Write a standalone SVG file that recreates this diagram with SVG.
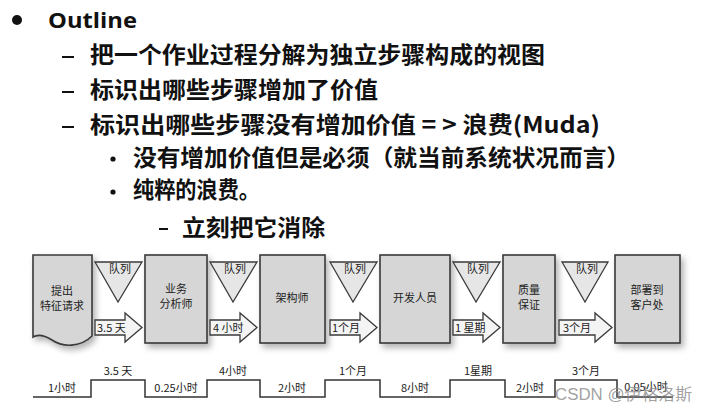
<svg xmlns="http://www.w3.org/2000/svg" width="708" height="413" viewBox="0 0 708 413">
<defs>
<style>
.h{font-family:"Noto Sans CJK SC","Noto Sans",sans-serif;font-weight:700;fill:#111}
.o{font-family:"Open Sans","Noto Sans",sans-serif;font-weight:700;fill:#111}
.t{font-family:"Noto Sans CJK SC",sans-serif;font-size:11px;fill:#222}
.box{fill:#d6d6d6;stroke:#3a3a3a;stroke-width:1.6}
.tri{fill:#e6e6e6;stroke:#3a3a3a;stroke-width:1.3}
.arr{fill:#f4f4f4;stroke:#3a3a3a;stroke-width:1.3}
.tl{fill:none;stroke:#333;stroke-width:1.5}
.d{stroke:#111;stroke-width:2}
</style>
<filter id="sh" x="-20%" y="-20%" width="150%" height="150%">
<feDropShadow dx="3" dy="4" stdDeviation="3" flood-color="#000" flood-opacity="0.3"/>
</filter>
</defs>
<rect width="708" height="413" fill="#fff"/>
<g id="outline">
<circle cx="17" cy="20" r="5" fill="#111"/>
<text class="o" x="48" y="28" font-size="21" textLength="89" lengthAdjust="spacingAndGlyphs">Outline</text>
<line class="d" x1="62" y1="57" x2="74" y2="57"/>
<text class="h" x="90" y="63" font-size="23" textLength="455" lengthAdjust="spacingAndGlyphs">把一个作业过程分解为独立步骤构成的视图</text>
<line class="d" x1="62" y1="92" x2="74" y2="92"/>
<text class="h" x="90" y="98" font-size="23" textLength="288" lengthAdjust="spacingAndGlyphs">标识出哪些步骤增加了价值</text>
<line class="d" x1="62" y1="127" x2="74" y2="127"/>
<text class="h" x="90" y="133" font-size="23" textLength="510" lengthAdjust="spacingAndGlyphs">标识出哪些步骤没有增加价值 = &gt; 浪费(Muda)</text>
<circle cx="113" cy="159" r="2.6" fill="#111"/>
<text class="h" x="133" y="166" font-size="23" textLength="497" lengthAdjust="spacingAndGlyphs">没有增加价值但是必须（就当前系统状况而言）</text>
<circle cx="113" cy="192" r="2.6" fill="#111"/>
<text class="h" x="133" y="198" font-size="23" textLength="127" lengthAdjust="spacingAndGlyphs">纯粹的浪费。</text>
<line class="d" x1="159" y1="229" x2="168" y2="229"/>
<text class="h" x="182" y="236" font-size="23" textLength="143" lengthAdjust="spacingAndGlyphs">立刻把它消除</text>
</g>
<g id="n1" filter="url(#sh)">
<path class="box" d="M33,255 H92 V336 C80,348 62,347 52,340 C44,335 38,334 33,337 Z"/>
</g>
<g id="n1t"><text class="t" x="62" y="295" text-anchor="middle">提出</text><text class="t" x="62" y="310" text-anchor="middle">特征请求</text></g>
<g id="n2" filter="url(#sh)"><rect class="box" x="145" y="255" width="62" height="88"/></g>
<g id="n2t"><text class="t" x="176" y="293" text-anchor="middle">业务</text><text class="t" x="176" y="308" text-anchor="middle">分析师</text></g>
<g id="n3" filter="url(#sh)"><rect class="box" x="260" y="255" width="65" height="88"/></g>
<g id="n3t"><text class="t" x="292" y="302" text-anchor="middle">架构师</text></g>
<g id="n4" filter="url(#sh)"><rect class="box" x="380" y="255" width="70" height="88"/></g>
<g id="n4t"><text class="t" x="415" y="302" text-anchor="middle">开发人员</text></g>
<g id="n5" filter="url(#sh)"><rect class="box" x="503" y="255" width="52" height="88"/></g>
<g id="n5t"><text class="t" x="529" y="294" text-anchor="middle">质量</text><text class="t" x="529" y="309" text-anchor="middle">保证</text></g>
<g id="n6" filter="url(#sh)"><rect class="box" x="615" y="255" width="65" height="88"/></g>
<g id="n6t"><text class="t" x="647" y="294" text-anchor="middle">部署到</text><text class="t" x="647" y="309" text-anchor="middle">客户处</text></g>
<g id="q1"><path class="tri" d="M95,262 H142 L118,302 Z"/><text class="t" x="120" y="273" text-anchor="middle" font-size="10">队列</text></g>
<g id="q2"><path class="tri" d="M210,262 H257 L233,302 Z"/><text class="t" x="235" y="273" text-anchor="middle" font-size="10">队列</text></g>
<g id="q3"><path class="tri" d="M330,262 H377 L353,302 Z"/><text class="t" x="355" y="273" text-anchor="middle" font-size="10">队列</text></g>
<g id="q4"><path class="tri" d="M453,262 H500 L476,302 Z"/><text class="t" x="478" y="273" text-anchor="middle" font-size="10">队列</text></g>
<g id="q5"><path class="tri" d="M562,262 H608 L585,302 Z"/><text class="t" x="587" y="273" text-anchor="middle" font-size="10">队列</text></g>
<g id="connectors">
<path class="arr" d="M95,320 H125 V313 L142,327.5 L125,342 V335 H95 Z"/>
<text class="t" x="97" y="332" font-size="10.5">3.5 天</text>
<path class="arr" d="M210,320 H240 V313 L257,327.5 L240,342 V335 H210 Z"/>
<text class="t" x="213" y="332" font-size="10.5">4 小时</text>
<path class="arr" d="M330,320 H360 V313 L377,327.5 L360,342 V335 H330 Z"/>
<text class="t" x="332" y="332" font-size="10.5">1个月</text>
<path class="arr" d="M453,320 H483 V313 L500,327.5 L483,342 V335 H453 Z"/>
<text class="t" x="455" y="332" font-size="10.5">1 星期</text>
<path class="arr" d="M559,320 H595 V313 L612,327.5 L595,342 V335 H559 Z"/>
<text class="t" x="563" y="332" font-size="10.5">3个月</text>
</g>
<g id="timeline">
<path class="tl" d="M33,397 H91 V380 H145 V397 H207 V380 H260 V397 H325 V380 H380 V397 H450 V380 H505 V397 H555 V380 H617 V397 H673"/>
<text class="t" x="62" y="392" text-anchor="middle">1小时</text>
<text class="t" x="118" y="375" text-anchor="middle">3.5 天</text>
<text class="t" x="176" y="392" text-anchor="middle">0.25小时</text>
<text class="t" x="233" y="375" text-anchor="middle">4小时</text>
<text class="t" x="292" y="392" text-anchor="middle">2小时</text>
<text class="t" x="353" y="375" text-anchor="middle">1个月</text>
<text class="t" x="415" y="392" text-anchor="middle">8小时</text>
<text class="t" x="478" y="375" text-anchor="middle">1星期</text>
<text class="t" x="530" y="392" text-anchor="middle">2小时</text>
<text class="t" x="586" y="375" text-anchor="middle">3个月</text>
<text class="t" x="646" y="391" text-anchor="middle">0.05小时</text>
</g>
<text x="555" y="400" font-family="'Liberation Sans','Noto Sans CJK SC',sans-serif" font-size="16" fill="#888" fill-opacity="0.8" textLength="137" lengthAdjust="spacingAndGlyphs">CSDN @伊格洛斯</text>
</svg>
